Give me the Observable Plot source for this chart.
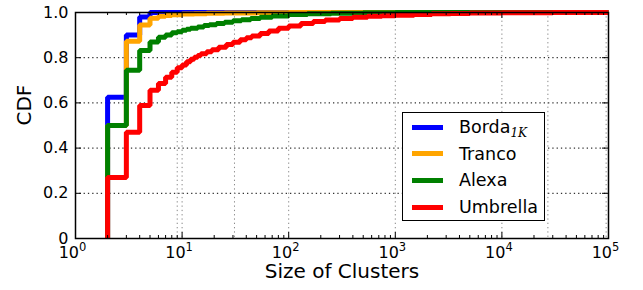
<!DOCTYPE html>
<html><head><meta charset="utf-8">
<script src="https://cdn.jsdelivr.net/npm/d3@7"></script>
<script src="https://cdn.jsdelivr.net/npm/@observablehq/plot@0.6"></script>
<style>
body{margin:0;background:#fff;}
#wrap{position:relative;width:643px;height:290px;font-family:"DejaVu Sans",sans-serif;}
.legend{position:absolute;left:402px;top:112px;width:143px;height:109px;border:1.5px solid #000;background:#fff;box-sizing:border-box;}
.row{position:absolute;left:0;height:0;}
.sw{position:absolute;left:9px;width:31px;height:5px;top:-2.5px;}
.lab{position:absolute;left:56px;top:-11px;font-size:17.5px;line-height:22px;white-space:nowrap;color:#000;}
.lab sub{font-family:"DejaVu Serif",serif;font-style:italic;font-size:12px;vertical-align:-4px;}
</style></head><body><div id="wrap"></div>
<script>
// Series: cluster size (x) and cumulative fraction (y)
const seriesNames = ["Borda", "Tranco", "Alexa", "Umbrella"];
const seriesColors = ["#0000ff", "#ffa500", "#008000", "#ff0000"];

const bordaX = [2, 2, 3, 4, 5, 100000];
const bordaY = [0, 0.625, 0.90, 0.98, 1.0, 1.0];

const trancoX = [2, 2, 3, 4, 5, 6, 7, 8, 10, 13, 17, 25, 50, 100, 100000];
const trancoY = [0, 0.50, 0.873, 0.945, 0.975, 0.983, 0.987, 0.99, 0.993, 0.995, 0.997, 0.998, 0.999, 1.0, 1.0];

const alexaX = [2, 2, 3, 4, 5, 6, 7, 8, 9, 10, 11, 12, 14, 16, 18, 21, 25, 30, 36, 44, 54, 70, 100, 150, 250, 500, 1000, 100000];
const alexaY = [0, 0.50, 0.744, 0.832, 0.869, 0.89, 0.90, 0.91, 0.915, 0.922, 0.926, 0.93, 0.936, 0.942, 0.946, 0.951, 0.957, 0.963, 0.968, 0.974, 0.979, 0.985, 0.991, 0.995, 0.997, 0.999, 1.0, 1.0];

const umbrellaX = [2, 2, 3, 4, 5, 6, 7, 8, 9, 10, 11, 12, 13, 14, 15, 17, 19, 22, 26, 30, 35, 40, 45, 54, 65, 80, 100, 130, 170, 220, 300, 400, 550, 750, 1000, 1500, 2200, 3300, 5000, 10000, 30000, 100000];
const umbrellaY = [0, 0.27, 0.47, 0.589, 0.656, 0.686, 0.714, 0.736, 0.755, 0.768, 0.782, 0.793, 0.802, 0.81, 0.817, 0.826, 0.835, 0.846, 0.858, 0.868, 0.879, 0.888, 0.896, 0.907, 0.918, 0.93, 0.94, 0.951, 0.96, 0.967, 0.974, 0.979, 0.983, 0.986, 0.988, 0.991, 0.994, 0.996, 0.998, 0.999, 1.0, 1.0];

const seriesX = [bordaX, trancoX, alexaX, umbrellaX];
const seriesY = [bordaY, trancoY, alexaY, umbrellaY];

// Ticks
const xMajor = [1, 10, 100, 1000, 10000, 100000];
const xMinor = [];
for (const dec of [1, 10, 100, 1000, 10000]) for (const m of [2,3,4,5,6,7,8,9]) xMinor.push(dec * m);
const yTicks = [0, 0.2, 0.4, 0.6, 0.8, 1.0];
const yGrid = [0.2, 0.4, 0.6, 0.8];
const xGrid = [9, 10, 31, 100, 1000, 10000, 27000, 95000];

const W = 643, H = 290, mL = 75, mR = 35, mT = 12, mB = 52;
const fw = W - mL - mR, fh = H - mT - mB;

const data = seriesNames.map((name, i) => seriesX[i].map((x, j) => ({name, x, y: seriesY[i][j]})));

const chart = Plot.plot({
  width: W, height: H,
  marginLeft: mL, marginRight: mR, marginTop: mT, marginBottom: mB,
  style: {fontFamily: "DejaVu Sans", fontSize: "16px", background: "#fff", overflow: "visible"},
  x: {type: "log", domain: [1, 100000]},
  y: {domain: [0, 1]},
  marks: [
    Plot.gridY(yGrid, {stroke: "#000", strokeOpacity: 1, strokeDasharray: "1.3,3", strokeWidth: 1}),
    Plot.gridX(xGrid, {stroke: "#888", strokeOpacity: 1, strokeDasharray: "1.3,3", strokeWidth: 1}),
    ...data.map((d, i) => Plot.line(d, {x: "x", y: "y", stroke: seriesColors[i], strokeWidth: 5, curve: "step-after", strokeLinejoin: "miter", strokeLinecap: "butt"})),
    Plot.tickX(xMajor, {x: d => d, insetTop: fh - 6, stroke: "#000", strokeWidth: 1}),
    Plot.tickX(xMajor, {x: d => d, insetBottom: fh - 6, stroke: "#000", strokeWidth: 1}),
    Plot.tickX(xMinor, {x: d => d, insetTop: fh - 3, stroke: "#000", strokeWidth: 1}),
    Plot.tickX(xMinor, {x: d => d, insetBottom: fh - 3, stroke: "#000", strokeWidth: 1}),
    Plot.tickY(yTicks, {y: d => d, insetRight: fw - 6, stroke: "#000", strokeWidth: 1}),
    Plot.tickY(yTicks, {y: d => d, insetLeft: fw - 6, stroke: "#000", strokeWidth: 1}),
    Plot.axisX(xMajor, {anchor: "bottom", tickSize: 0, tickPadding: 8, tickFormat: d => "10^" + Math.round(Math.log10(d)), label: null, fontSize: 16, dx: -3}),
    Plot.axisY(yTicks, {anchor: "left", tickSize: 0, tickPadding: 7, tickFormat: d => d === 0 ? "0" : d.toFixed(1), label: null, fontSize: 16}),
    Plot.frame({stroke: "#000", strokeWidth: 1.5}),
    Plot.text(["Size of Clusters"], {frameAnchor: "bottom", dy: 39, fontSize: 20, fill: "#000"}),
    Plot.text(["CDF"], {frameAnchor: "left", dx: -51, rotate: -90, fontSize: 20, fill: "#000"})
  ]
});

// Render x tick labels as 10 with a real superscript exponent
chart.querySelectorAll('g[aria-label="x-axis tick label"] text').forEach(t => {
  const s = t.textContent;
  const m = s.match(/^10\^(\d+)$/);
  if (!m) return;
  t.textContent = "10";
  const ts = document.createElementNS("http://www.w3.org/2000/svg", "tspan");
  ts.setAttribute("dy", "-6.5");
  ts.setAttribute("font-size", "11.5");
  ts.textContent = m[1];
  t.appendChild(ts);
});

const wrap = document.getElementById("wrap");
wrap.appendChild(chart);

const legend = document.createElement("div");
legend.className = "legend";
const rowTops = [14, 40.7, 67.3, 94];
seriesNames.forEach((name, i) => {
  const row = document.createElement("div");
  row.className = "row";
  row.style.top = rowTops[i] + "px";
  const sw = document.createElement("div");
  sw.className = "sw";
  sw.style.background = seriesColors[i];
  const lab = document.createElement("div");
  lab.className = "lab";
  lab.innerHTML = i === 0 ? name + "<sub>1K</sub>" : name;
  row.appendChild(sw); row.appendChild(lab);
  legend.appendChild(row);
});
wrap.appendChild(legend);
</script>
</body></html>
